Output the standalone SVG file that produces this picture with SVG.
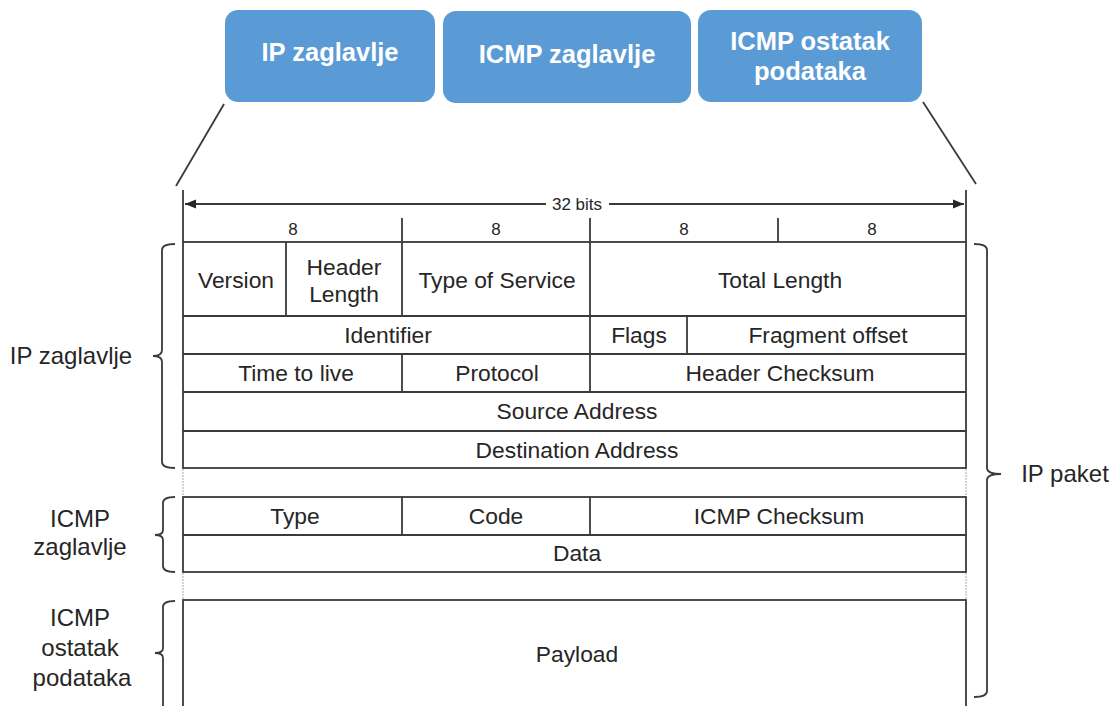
<svg xmlns="http://www.w3.org/2000/svg" width="1117" height="706" viewBox="0 0 1117 706">
<style>
.bx{fill:#5b9bd5}
.bt{font-family:"Liberation Sans",Arial,sans-serif;font-weight:bold;font-size:25.5px;fill:#fff;text-anchor:middle}
.t{font-family:"Liberation Sans",Arial,sans-serif;font-size:22.8px;fill:#262626;text-anchor:middle}
.l{font-family:"Liberation Sans",Arial,sans-serif;font-size:24px;fill:#262626;text-anchor:middle}
.s{font-family:"Liberation Sans",Arial,sans-serif;font-size:17px;fill:#262626;text-anchor:middle}
.ln{stroke:#3a3a3a;stroke-width:1.8;fill:none}
.dt{stroke:#aaa;stroke-width:1;stroke-dasharray:2 1;fill:none}
</style>
<defs>
<marker id="ah" viewBox="0 0 10 10" refX="10" refY="5" markerWidth="11" markerHeight="11" markerUnits="userSpaceOnUse" orient="auto-start-reverse">
<path d="M0,1 L10,5 L0,9 Z" fill="#262626"/>
</marker>
</defs>
<rect width="1117" height="706" fill="#fff"/>
<g id="box-ip"><rect class="bx" x="225" y="10" width="210" height="92" rx="13"/><text class="bt" x="330" y="61">IP zaglavlje</text></g>
<g id="box-icmp"><rect class="bx" x="443" y="11" width="248" height="92" rx="13"/><text class="bt" x="567" y="63">ICMP zaglavlje</text></g>
<g id="box-rest"><rect class="bx" x="698" y="10" width="224" height="92" rx="13"/><text class="bt" x="810" y="50">ICMP ostatak</text><text class="bt" x="810" y="80">podataka</text></g>
<g id="connectors">
<line class="ln" x1="224" y1="104" x2="176" y2="186"/>
<line class="ln" x1="923" y1="102" x2="976" y2="184"/>
</g>
<g id="scale">
<line class="ln" x1="183" y1="190" x2="183" y2="242"/>
<line class="ln" x1="966" y1="190" x2="966" y2="242"/>
<line class="ln" x1="402" y1="218" x2="402" y2="242"/>
<line class="ln" x1="590" y1="218" x2="590" y2="242"/>
<line class="ln" x1="778" y1="218" x2="778" y2="242"/>
<line class="ln" x1="546" y1="204" x2="185" y2="204" marker-end="url(#ah)"/>
<line class="ln" x1="609" y1="204" x2="964" y2="204" marker-end="url(#ah)"/>
<text class="s" x="577" y="210">32 bits</text>
<text class="s" x="293" y="235">8</text>
<text class="s" x="496" y="235">8</text>
<text class="s" x="684" y="235">8</text>
<text class="s" x="872" y="235">8</text>
</g>
<g id="ip-header">
<rect class="ln" x="183" y="242" width="783" height="226"/>
<line class="ln" x1="183" y1="316" x2="966" y2="316"/>
<line class="ln" x1="183" y1="354" x2="966" y2="354"/>
<line class="ln" x1="183" y1="392" x2="966" y2="392"/>
<line class="ln" x1="183" y1="431" x2="966" y2="431"/>
<line class="ln" x1="286" y1="242" x2="286" y2="316"/>
<line class="ln" x1="402" y1="242" x2="402" y2="316"/>
<line class="ln" x1="590" y1="242" x2="590" y2="392"/>
<line class="ln" x1="687" y1="316" x2="687" y2="354"/>
<line class="ln" x1="402" y1="354" x2="402" y2="392"/>
<text class="t" x="236" y="288">Version</text>
<text class="t" x="344" y="275">Header</text>
<text class="t" x="344" y="302">Length</text>
<text class="t" x="497" y="288">Type of Service</text>
<text class="t" x="780" y="288">Total Length</text>
<text class="t" x="388" y="343">Identifier</text>
<text class="t" x="639" y="343">Flags</text>
<text class="t" x="828" y="343">Fragment offset</text>
<text class="t" x="296" y="381">Time to live</text>
<text class="t" x="497" y="381">Protocol</text>
<text class="t" x="780" y="381">Header Checksum</text>
<text class="t" x="577" y="419">Source Address</text>
<text class="t" x="577" y="458">Destination Address</text>
</g>
<g id="gaps">
<line class="dt" x1="183" y1="469" x2="183" y2="496"/>
<line class="dt" x1="966" y1="469" x2="966" y2="496"/>
<line class="dt" x1="183" y1="573" x2="183" y2="599"/>
<line class="dt" x1="966" y1="573" x2="966" y2="599"/>
</g>
<g id="icmp-header">
<rect class="ln" x="183" y="497" width="783" height="75"/>
<line class="ln" x1="183" y1="535" x2="966" y2="535"/>
<line class="ln" x1="402" y1="497" x2="402" y2="535"/>
<line class="ln" x1="590" y1="497" x2="590" y2="535"/>
<text class="t" x="295" y="524">Type</text>
<text class="t" x="496" y="524">Code</text>
<text class="t" x="779" y="524">ICMP Checksum</text>
<text class="t" x="577" y="561">Data</text>
</g>
<g id="payload">
<rect class="ln" x="183" y="600" width="783" height="110"/>
<text class="t" x="577" y="662">Payload</text>
</g>
<g id="brace-ip">
<path class="ln" d="M175,244 Q162,244 162,250 L162,350 Q162,356 153,356 Q162,356 162,362 L162,462 Q162,468 175,468"/>
<text class="l" x="71" y="364">IP zaglavlje</text>
</g>
<g id="brace-icmp">
<path class="ln" d="M175,497 Q163,497 163,503 L163,530 Q163,535 155,535 Q163,535 163,540 L163,566 Q163,572 175,572"/>
<text class="l" x="80" y="527">ICMP</text>
<text class="l" x="80" y="555">zaglavlje</text>
</g>
<g id="brace-rest">
<path class="ln" d="M175,601 Q163,601 163,607 L163,648 Q163,653 155,653 Q163,653 163,658 L163,706"/>
<text class="l" x="80" y="626">ICMP</text>
<text class="l" x="80" y="656">ostatak</text>
<text class="l" x="82" y="686">podataka</text>
</g>
<g id="brace-packet">
<path class="ln" d="M974,244 Q987,244 987,250 L987,468 Q987,474 1001,474 Q987,474 987,480 L987,691 Q987,697 974,697"/>
<text class="l" x="1065" y="482">IP paket</text>
</g>
</svg>
